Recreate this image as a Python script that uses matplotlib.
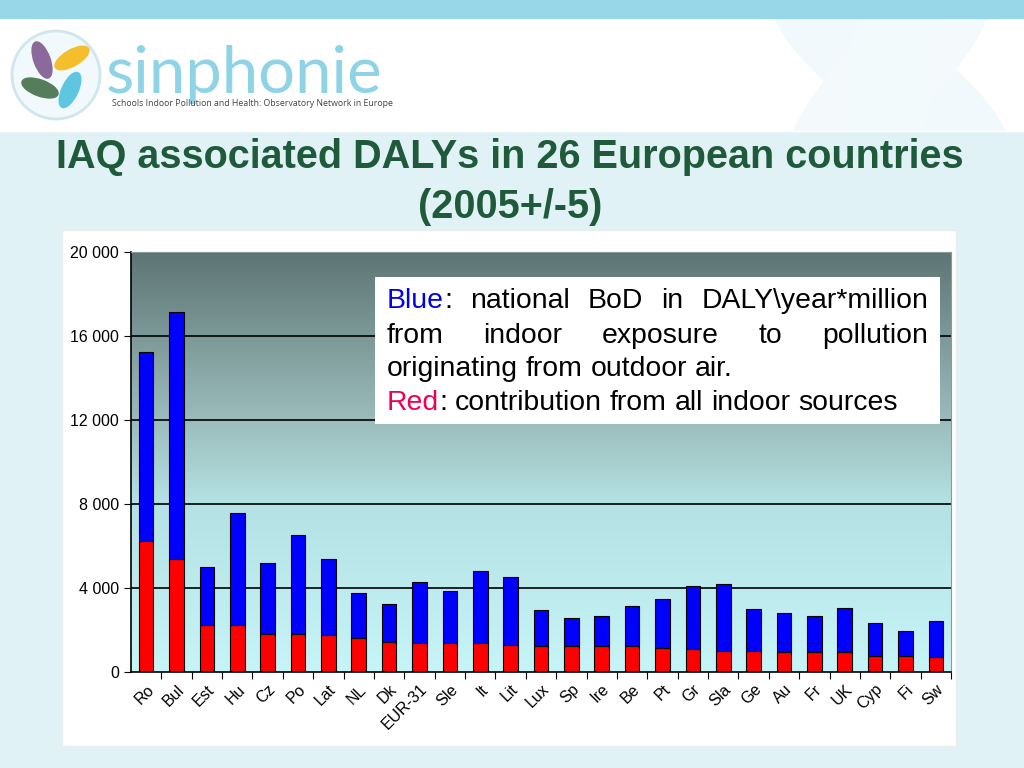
import matplotlib
matplotlib.use('Agg')
import matplotlib.pyplot as plt
import numpy as np
from matplotlib.patches import Rectangle, Ellipse, Circle
from matplotlib.colors import LinearSegmentedColormap

# data
countries = ['Ro', 'Bul', 'Est', 'Hu', 'Cz', 'Po', 'Lat', 'NL', 'Dk', 'EUR-31', 'Sle', 'It', 'Lit',
             'Lux', 'Sp', 'Ire', 'Be', 'Pt', 'Gr', 'Sla', 'Ge', 'Au', 'Fr', 'UK', 'Cyp', 'Fi', 'Sw']
red_vals = [6250, 5360, 2260, 2260, 1800, 1800, 1750, 1620, 1450, 1380, 1380, 1380, 1290,
            1230, 1230, 1230, 1230, 1160, 1100, 990, 990, 940, 940, 940, 760, 760, 700]
blue_vals = [8980, 11780, 2740, 5300, 3370, 4710, 3640, 2150, 1780, 2920, 2500, 3440, 3230,
             1730, 1360, 1430, 1890, 2320, 3000, 3180, 2020, 1890, 1720, 2110, 1550, 1200, 1720]
y_ticks = [0, 4000, 8000, 12000, 16000, 20000]
y_labels = ['0', '4 000', '8 000', '12 000', '16 000', '20 000']

W, H = 1024, 768
fig = plt.figure(figsize=(W / 100, H / 100), dpi=100)
FONT = ['Liberation Sans', 'DejaVu Sans']

def fx(x):
    return x / W

def fy(y):
    return 1 - y / H

# ---- slide background ----
bg = fig.add_axes([0, 0, 1, 1])
bg.set_xlim(0, W)
bg.set_ylim(H, 0)
bg.axis('off')
bg.add_patch(Rectangle((0, 0), W, H, color='#e1f2f7', zorder=0))
header = Rectangle((0, 18), W, 113, color='white', zorder=1)
bg.add_patch(header)
bg.add_patch(Rectangle((0, 0), W, 18, color='#97d7e8', zorder=2))
# faint watermark flower, kept inside the white header
for ang, col in [(35, '#f2f9fc'), (-45, '#f4fafc'), (100, '#f3fafc')]:
    e = Ellipse((890, 75), 280, 90, angle=ang, color=col, zorder=1.5)
    bg.add_patch(e)
    e.set_clip_path(header)

# logo
bg.add_patch(Circle((56, 75), 44, facecolor='#f2f9fc', edgecolor='#cfe6ef', lw=2, zorder=3))
for (cx, cy, ang, col) in [(42, 60, 70, '#8a6a9a'), (72, 58, -30, '#f4be2c'),
                           (40, 88, 20, '#557d5c'), (70, 90, 115, '#5ec6e0')]:
    bg.add_patch(Ellipse((cx, cy), 38, 16, angle=ang, color=col, zorder=4))
fig.text(fx(106), fy(75), 'sinphonie', fontsize=47, color='#8fd3e6',
         family=['Lato', 'DejaVu Sans'], fontweight='normal', va='center', ha='left')
fig.text(fx(112), fy(104), 'Schools Indoor Pollution and Health: Observatory Network in Europe',
         fontsize=6.3, color='#444444', family=['Open Sans', 'DejaVu Sans'], va='center', ha='left')

# title
fig.text(fx(510), fy(157), 'IAQ associated DALYs in 26 European countries', fontsize=28.5,
         fontweight='bold', color='#1f5a3b', family=FONT, ha='center', va='center')
fig.text(fx(510), fy(207), '(2005+/-5)', fontsize=28.5, fontweight='bold', color='#1f5a3b',
         family=FONT, ha='center', va='center')

# white chart panel
bg.add_patch(Rectangle((62, 230), 894, 516, facecolor='white', edgecolor='#e6eef0', zorder=3))

# ---- chart ----
ax = fig.add_axes([fx(131), fy(672), 820 / W, 420 / H])
x = np.arange(len(countries))

cmap = LinearSegmentedColormap.from_list('bgfill', [(0, '#c7f4f7'), (0.4, '#b4e2e4'),
                                                    (0.6, '#9bbcbb'), (1, '#5e7575')])
grad = np.linspace(0, 1, 256).reshape(-1, 1)
ax.imshow(grad, extent=[-0.5, len(countries) - 0.5, 0, 20000], origin='lower',
          aspect='auto', cmap=cmap, zorder=0)

for t in y_ticks[1:-1]:
    ax.axhline(t, color='black', lw=1.2, zorder=1)

ax.bar(x, red_vals, width=0.48, color='#ff0000', edgecolor='black', lw=0.8, zorder=2)
ax.bar(x, blue_vals, bottom=red_vals, width=0.48, color='#0000ff', edgecolor='black', lw=0.8, zorder=2)

ax.set_xlim(-0.5, len(countries) - 0.5)
ax.set_ylim(0, 20000)
ax.set_yticks(y_ticks)
ax.set_yticklabels(y_labels, fontsize=11.5, family=FONT)
ax.set_xticks(x + 0.5, minor=False)
ax.set_xticklabels([])
ax.set_xticks(x, minor=True)
ax.set_xticklabels(countries, minor=True, rotation=45, ha='right', va='top',
                   fontsize=11.5, family=FONT, rotation_mode='anchor')
ax.tick_params(axis='x', which='minor', length=0, pad=7)
ax.tick_params(axis='x', which='major', length=5, direction='out')
ax.tick_params(axis='y', length=5, direction='out')
ax.spines['top'].set_color('#8a9a9a')
ax.spines['right'].set_color('#8a9a9a')
ax.spines['left'].set_linewidth(1.2)
ax.spines['bottom'].set_linewidth(1.2)

# annotation box
ax.add_patch(Rectangle((fx(375), fy(424)), fx(940) - fx(375), fy(277) - fy(424),
                       transform=fig.transFigure, facecolor='white', edgecolor='none', zorder=5))

renderer = fig.canvas.get_renderer()
FS = 20.4

def text_width(s):
    t = fig.text(0, 0, s, fontsize=FS, family=FONT)
    w = t.get_window_extent(renderer).width
    t.remove()
    return w

def put_line(groups, ypix, x0, x1, justify):
    widths = [sum(text_width(s) for s, c in g) for g in groups]
    if justify:
        gap = (x1 - x0 - sum(widths)) / (len(groups) - 1)
    else:
        gap = text_width('a a') - text_width('aa')
    xc = x0
    for g, w in zip(groups, widths):
        xx = xc
        for s, c in g:
            fig.text(fx(xx), fy(ypix), s, fontsize=FS, family=FONT, color=c,
                     va='center', ha='left', zorder=6)
            xx += text_width(s)
        xc += w + gap

K = 'black'
put_line([[('Blue', '#0000ee'), (':', K)], [('national', K)], [('BoD', K)], [('in', K)],
          [('DALY\\year*million', K)]], 301, 387, 928, True)
put_line([[('from', K)], [('indoor', K)], [('exposure', K)], [('to', K)], [('pollution', K)]],
         336, 387, 928, True)
put_line([[(w, K)] for w in 'originating from outdoor air.'.split()], 369, 387, 928, False)
put_line([[('Red', '#ee0055'), (':', K)]] + [[(w, K)] for w in
          'contribution from all indoor sources'.split()], 403, 387, 928, False)

fig.savefig('out.png', dpi=100)
